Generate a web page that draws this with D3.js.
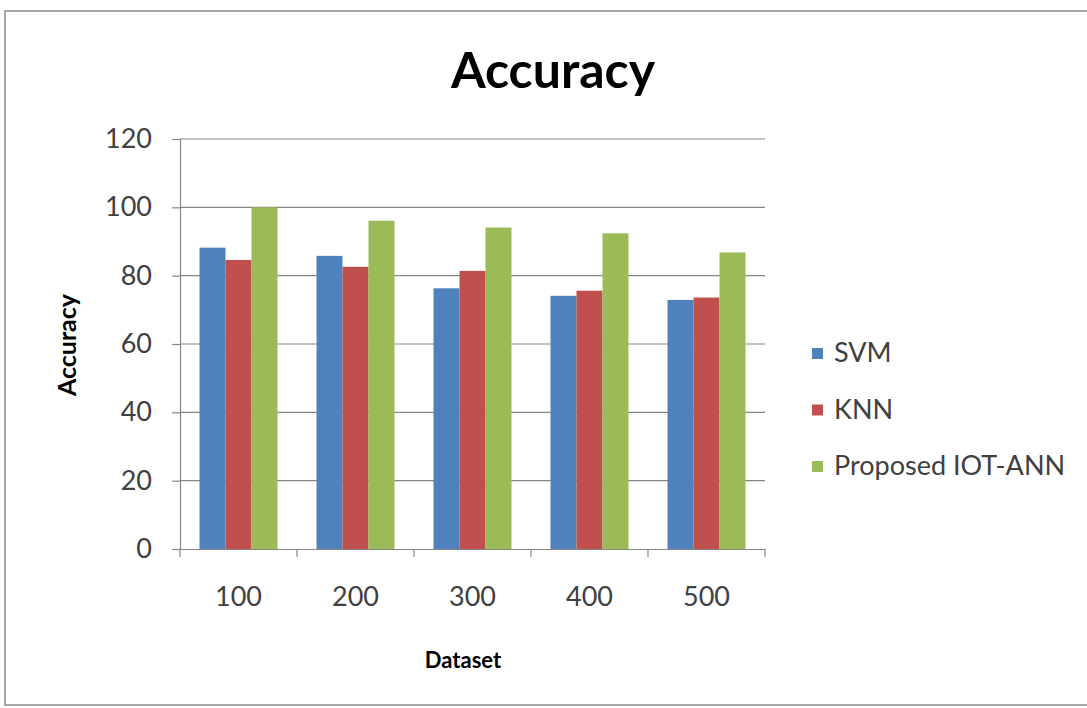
<!DOCTYPE html>
<html><head><meta charset="utf-8">
<script src="https://cdn.jsdelivr.net/npm/d3@7"></script>
<style>body{margin:0;background:#fff;} text{font-family:Lato,"Open Sans",sans-serif;}</style>
</head><body><svg id="c" width="1087" height="708"></svg>
<script>
const categories = ["100","200","300","400","500"];
const seriesNames = ["SVM","KNN","Proposed IOT-ANN"];
const svmValues = [88.2, 85.8, 76.3, 74.1, 72.9];
const knnValues = [84.6, 82.6, 81.4, 75.6, 73.6];
const annValues = [100, 96.1, 94.1, 92.4, 86.8];
const yTicks = [0,20,40,60,80,100,120];
const colors = ["#4F81BD","#C0504D","#9BBB59"];

(function(){
const svg = d3.select("#c");
svg.append("rect").attr("x",5).attr("y",11).attr("width",1090).attr("height",694)
  .attr("fill","#fff").attr("stroke","#a6a6a6").attr("stroke-width",2);

const pL=180,pR=765,pT=139,pB=549;
const x = d3.scaleBand().domain(categories).range([pL,pR]);
const y = d3.scaleLinear().domain([0,120]).range([pB,pT]);
const data = categories.map((c,i)=>({c, vals:[svmValues[i],knnValues[i],annValues[i]]}));

svg.append("g").selectAll("line").data(yTicks.filter(t=>t>0)).join("line")
  .attr("x1",pL).attr("x2",pR).attr("y1",d=>y(d)).attr("y2",d=>y(d))
  .attr("stroke","#868686").attr("stroke-width",1.2);

const bw = x.bandwidth()/4.5;
const g = svg.append("g").selectAll("g").data(data).join("g");
g.selectAll("rect").data(d=>d.vals.map((v,k)=>({c:d.c,v,k}))).join("rect")
  .attr("x",d=>x(d.c)+x.bandwidth()/2-1.5*bw+d.k*bw)
  .attr("y",d=>y(d.v)).attr("width",bw).attr("height",d=>pB-y(d.v))
  .attr("fill",d=>colors[d.k]);

const ya = svg.append("g").attr("transform",`translate(${pL},0)`)
  .call(d3.axisLeft(y).tickValues(yTicks).tickSize(8).tickPadding(20));
ya.select(".domain").attr("stroke","#868686").attr("stroke-width",1.2);
ya.selectAll(".tick line").attr("stroke","#868686").attr("stroke-width",1.2);
ya.selectAll("text").attr("font-size",27).attr("fill","#404040").attr("font-family","Lato");

const xa = svg.append("g").attr("transform",`translate(0,${pB})`)
  .call(d3.axisBottom(x).tickSize(0).tickPadding(38));
xa.select(".domain").attr("stroke","#868686").attr("stroke-width",1.2);
xa.selectAll("text").attr("font-size",27).attr("fill","#404040").attr("font-family","Lato");
const bounds = categories.map(c=>x(c)).concat([pR]);
svg.append("g").selectAll("line").data(bounds).join("line")
  .attr("x1",d=>d).attr("x2",d=>d).attr("y1",pB).attr("y2",pB+8)
  .attr("stroke","#868686").attr("stroke-width",1.2);

svg.append("text").attr("x",553).attr("y",88).attr("text-anchor","middle")
  .attr("font-size",50).attr("font-weight","bold").attr("fill","#000").text("Accuracy");
svg.append("text").attr("x",463).attr("y",668).attr("text-anchor","middle")
  .attr("font-size",22).attr("font-weight","bold").attr("fill","#000").text("Dataset");
svg.append("text").attr("transform","translate(76,345) rotate(-90)").attr("text-anchor","middle")
  .attr("font-size",25).attr("font-weight","bold").attr("fill","#000").text("Accuracy");

const lg = svg.append("g").selectAll("g").data(seriesNames).join("g")
  .attr("transform",(d,i)=>`translate(812,${353+i*56.5})`);
lg.append("rect").attr("x",0).attr("y",-5).attr("width",11).attr("height",11).attr("fill",(d,i)=>colors[i]);
lg.append("text").attr("x",22).attr("y",9).attr("font-size",27).attr("fill","#404040").text(d=>d);
})();
</script></body></html>
